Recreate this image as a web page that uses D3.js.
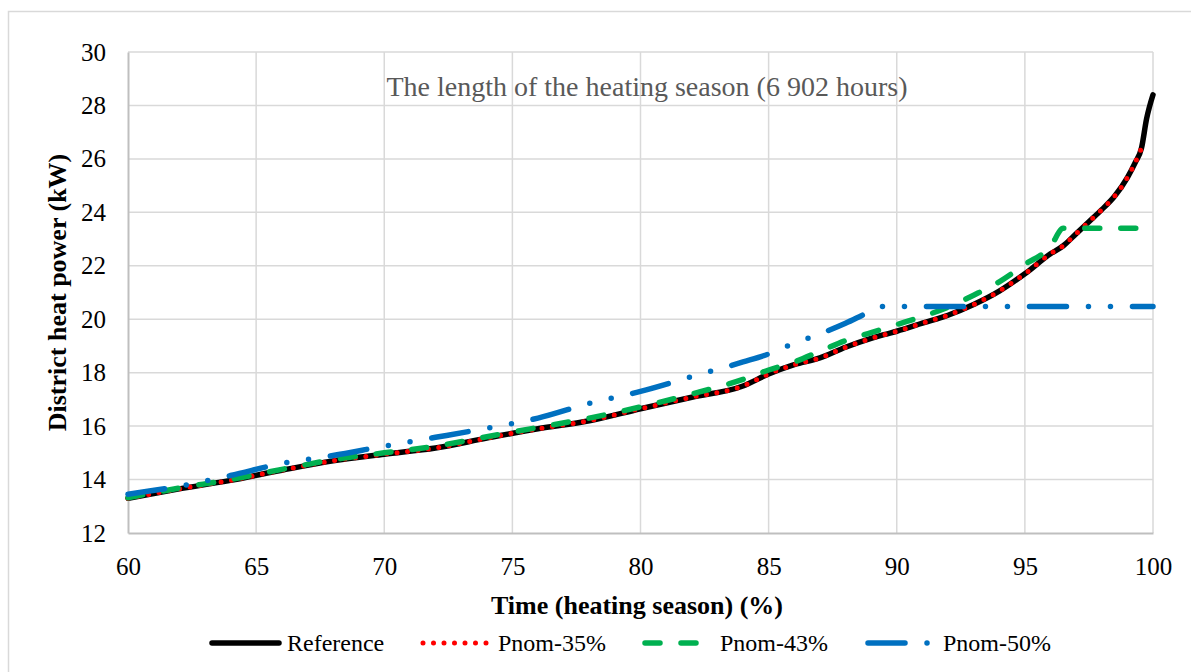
<!DOCTYPE html>
<html>
<head>
<meta charset="utf-8">
<script src="https://cdn.jsdelivr.net/npm/d3@7"></script>
<style>
  html, body { margin: 0; padding: 0; background: #fff; }
  svg { display: block; font-family: "Liberation Serif", "Times New Roman", serif; }
</style>
</head>
<body>
<svg id="chart" width="1191" height="672"></svg>
<script>
// Share of the heating season (%)
const time = [60, 62, 64, 66, 68, 70, 72, 74, 76, 78, 80, 82, 84, 85, 86, 87, 88, 89, 89.5,
              90, 91, 92, 93, 94, 95, 96, 96.5, 97, 97.5, 98, 98.5, 99, 99.3, 99.55, 99.75, 100];

// District heat power (kW) for each case, aligned with `time`
const reference = [13.3, 13.65, 13.97, 14.35, 14.7, 14.95, 15.18, 15.55, 15.9, 16.2, 16.65, 17.08, 17.5, 17.95, 18.3, 18.55, 18.95, 19.28, 19.42,
                   19.55, 19.85, 20.15, 20.55, 21.05, 21.7, 22.45, 22.75, 23.2, 23.65, 24.1, 24.6, 25.3, 25.85, 26.4, 27.5, 28.4];
const pnom35 = [13.3, 13.65, 13.97, 14.35, 14.7, 14.95, 15.18, 15.55, 15.9, 16.2, 16.65, 17.08, 17.5, 17.95, 18.3, 18.55, 18.95, 19.28, 19.42,
                19.55, 19.85, 20.15, 20.55, 21.05, 21.7, 22.45, 22.75, 23.2, 23.65, 24.1, 24.6, 25.3, 25.85, 26.4, null, null];
const pnom43 = [13.32, 13.68, 14.0, 14.38, 14.74, 15.0, 15.25, 15.6, 15.95, 16.3, 16.72, 17.2, 17.75, 18.1, 18.4, 18.8, 19.2, 19.5, 19.65,
                19.8, 20.1, 20.45, 20.9, 21.4, 22.05, 22.72, 23.4, 23.4, 23.4, 23.4, 23.4, 23.4, 23.4, 23.4, 23.4, 23.4];
const pnom50 = [13.45, 13.75, 14.15, 14.6, 14.9, 15.25, 15.58, 15.92, 16.3, 16.85, 17.3, 17.85, 18.4, 18.7, 19.1, 19.45, 19.85, 20.3, 20.48,
                20.48, 20.48, 20.48, 20.48, 20.48, 20.48, 20.48, 20.48, 20.48, 20.48, 20.48, 20.48, 20.48, 20.48, 20.48, 20.48, 20.48];

const xTicks = [60, 65, 70, 75, 80, 85, 90, 95, 100];
const yTicks = [12, 14, 16, 18, 20, 22, 24, 26, 28, 30];

const seriesNames = ["Reference", "Pnom-35%", "Pnom-43%", "Pnom-50%"];
const seriesValues = [reference, pnom35, pnom43, pnom50];

const styles = [
  { color: "#000000", width: 5.5, dash: null },
  { color: "#ff0000", width: 5,   dash: "0 10.5" },
  { color: "#00b050", width: 5.5, dash: "15 21" },
  { color: "#0070c0", width: 5.5, dash: "37 22 0 22 0 22" }
];

const svg = d3.select("#chart");
const plot = { left: 128, right: 1153, top: 52, bottom: 533 };

// outer chart frame
svg.append("rect")
  .attr("x", 8.5).attr("y", 11.5)
  .attr("width", 1200).attr("height", 700)
  .attr("fill", "none").attr("stroke", "#d9d9d9").attr("stroke-width", 1.5);

const x = d3.scaleLinear().domain([60, 100]).range([plot.left, plot.right]);
const y = d3.scaleLinear().domain([12, 30]).range([plot.bottom, plot.top]);

// gridlines
svg.append("g").selectAll("line.v").data(xTicks.slice(1)).join("line")
  .attr("x1", d => x(d)).attr("x2", d => x(d))
  .attr("y1", plot.top).attr("y2", plot.bottom)
  .attr("stroke", "#d9d9d9").attr("stroke-width", 1.5);
svg.append("g").selectAll("line.h").data(yTicks.slice(1)).join("line")
  .attr("x1", plot.left).attr("x2", plot.right)
  .attr("y1", d => y(d)).attr("y2", d => y(d))
  .attr("stroke", "#d9d9d9").attr("stroke-width", 1.5);

// axes
const xAxis = svg.append("g")
  .attr("transform", `translate(0,${plot.bottom})`)
  .call(d3.axisBottom(x).tickValues(xTicks).tickSize(0).tickPadding(24).tickFormat(d3.format("d")));
const yAxis = svg.append("g")
  .attr("transform", `translate(${plot.left},0)`)
  .call(d3.axisLeft(y).tickValues(yTicks).tickSize(0).tickPadding(22).tickFormat(d3.format("d")));
[xAxis, yAxis].forEach(a => {
  a.select(".domain").attr("stroke", "#bfbfbf").attr("stroke-width", 2);
  a.selectAll("text").attr("font-family", "Liberation Serif, Times New Roman, serif")
    .attr("font-size", 25).attr("fill", "#000");
});
xAxis.selectAll("text").attr("dy", "0.71em").attr("y", 24);

// annotation inside the plot
svg.append("text")
  .attr("x", 647).attr("y", 96)
  .attr("text-anchor", "middle")
  .attr("font-size", 28).attr("fill", "#595959")
  .text("The length of the heating season (6 902 hours)");

// axis titles
svg.append("text")
  .attr("x", 637).attr("y", 614)
  .attr("text-anchor", "middle")
  .attr("font-size", 26).attr("font-weight", "bold")
  .text("Time (heating season) (%)");
svg.append("text")
  .attr("transform", `translate(66,${(plot.top + plot.bottom) / 2}) rotate(-90)`)
  .attr("text-anchor", "middle")
  .attr("font-size", 26).attr("font-weight", "bold")
  .text("District heat power (kW)");

// series lines
const line = d3.line()
  .defined(d => d[1] != null)
  .x(d => x(d[0])).y(d => y(d[1]))
  .curve(d3.curveMonotoneX);

seriesValues.forEach((vals, i) => {
  const pts = time.map((t, k) => [t, vals[k]]);
  const s = styles[i];
  svg.append("path")
    .datum(pts)
    .attr("d", line)
    .attr("fill", "none")
    .attr("stroke", s.color)
    .attr("stroke-width", s.width)
    .attr("stroke-linecap", "round")
    .attr("stroke-linejoin", "round")
    .attr("stroke-dasharray", s.dash);
});

// legend
const legendItems = [
  { x1: 212, x2: 279, tx: 287 },
  { x1: 423, x2: 488, tx: 498 },
  { x1: 645, x2: 700, tx: 720 },
  { x1: 868, x2: 930, tx: 943 }
];
const legend = svg.append("g");
legendItems.forEach((it, i) => {
  const s = styles[i];
  legend.append("line")
    .attr("x1", it.x1).attr("x2", it.x2)
    .attr("y1", 643).attr("y2", 643)
    .attr("stroke", s.color)
    .attr("stroke-width", s.width)
    .attr("stroke-linecap", "round")
    .attr("stroke-dasharray", s.dash);
  legend.append("text")
    .attr("x", it.tx).attr("y", 651)
    .attr("font-size", 24)
    .text(seriesNames[i]);
});
</script>
</body>
</html>
